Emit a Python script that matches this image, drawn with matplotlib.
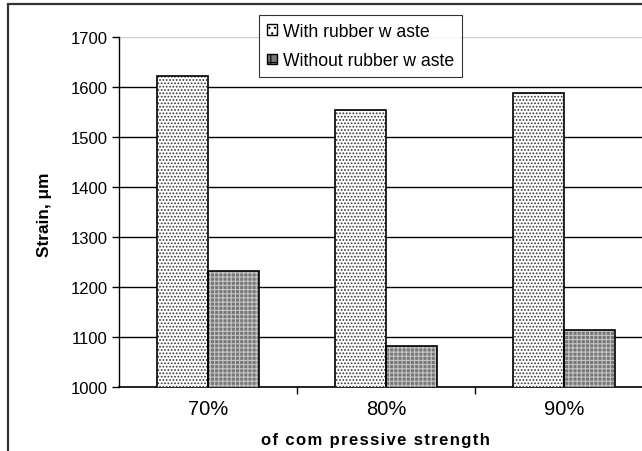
import matplotlib.pyplot as plt
import matplotlib.patches as mpatches
import numpy as np

plt.rcParams['font.family'] = ['Liberation Sans', 'DejaVu Sans']
plt.rcParams['hatch.linewidth'] = 0.8

categories = ["70%", "80%", "90%"]
with_rubber = [1622, 1554, 1588]
without_rubber = [1232, 1082, 1114]
series_labels = ["With rubber w aste", "Without rubber w aste"]

fig = plt.figure(figsize=(6.42, 4.52), dpi=100)

# outer chart frame (extends past the cropped right/bottom edges)
frame = mpatches.Rectangle((8 / 642, -0.1), 1.1, (452 - 5) / 452 + 0.1,
                           transform=fig.transFigure, fill=False,
                           edgecolor="#333333", linewidth=1.6, clip_on=False)
fig.patches.append(frame)

ax = fig.add_axes([119 / 642, 64 / 452, 534 / 642, 350 / 452])

x = np.arange(len(categories))
w = 0.287
light_face, light_hatch = "white", "#333333"
dark_face, dark_hatch = "#777777", "#c4c4c4"
ax.bar(x - w / 2, with_rubber, w, color=light_face, edgecolor=light_hatch,
       hatch=".....", linewidth=0, zorder=3)
ax.bar(x - w / 2, with_rubber, w, fill=False, edgecolor="black", linewidth=1.2, zorder=4)
ax.bar(x + w / 2, without_rubber, w, color=dark_face, edgecolor=dark_hatch,
       hatch="++++", linewidth=0, zorder=3)
ax.bar(x + w / 2, without_rubber, w, fill=False, edgecolor="black", linewidth=1.2, zorder=4)

ax.set_xlim(-0.5, 2.5)
ax.set_ylim(1000, 1700)
ax.set_yticks(range(1000, 1701, 100))
ax.yaxis.grid(True, color="black", linewidth=1.0)
ax.get_ygridlines()[-1].set_color("#d0d0d0")
ax.set_axisbelow(True)

ax.set_xticks([0.5, 1.5])
ax.set_xticklabels([])
ax.set_xticks(x, minor=True)
ax.set_xticklabels(categories, minor=True, fontsize=14.5)
ax.tick_params(axis="x", which="minor", length=0, pad=9)
ax.tick_params(axis="x", which="major", length=5, direction="out", width=1)
ax.tick_params(axis="y", length=5, direction="out", width=1, labelsize=12, pad=3)

for s in ["top", "right"]:
    ax.spines[s].set_visible(False)
ax.spines["left"].set_linewidth(1.0)
ax.spines["bottom"].set_linewidth(1.2)

ax.set_ylabel("Strain, μm", fontsize=12.4, fontweight="bold")
ax.yaxis.set_label_coords((52 - 119) / 534, (388 - 215) / 350)
ax.set_xlabel("\u200a".join("of com pressive strength"),
              fontsize=12, fontweight="bold")
ax.xaxis.set_label_coords((375 - 119) / 534, -(433 - 388) / 350)

handles = [mpatches.Patch(facecolor=light_face, edgecolor="black", hatch="...", linewidth=1.0),
           mpatches.Patch(facecolor=dark_face, edgecolor="black", hatch="++", linewidth=1.0)]
leg = ax.legend(handles, series_labels, loc="upper left",
                bbox_to_anchor=(140 / 534, 1 + 22 / 350), fontsize=12.7,
                frameon=True, fancybox=False, edgecolor="black",
                handlelength=0.55, handleheight=0.55, handletextpad=0.35,
                borderpad=0.45, labelspacing=0.7, borderaxespad=0)
leg.get_frame().set_linewidth(0.8)

fig.savefig("out.png", dpi=100)
